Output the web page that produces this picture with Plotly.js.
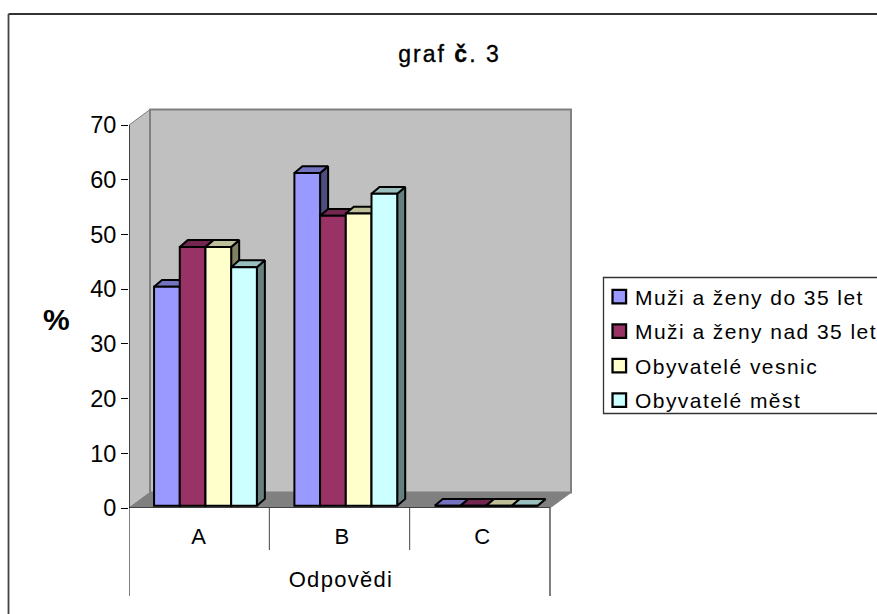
<!DOCTYPE html>
<html><head><meta charset="utf-8">
<script src="https://cdn.plot.ly/plotly-3.0.1.min.js"></script>
<style>html,body{margin:0;padding:0;background:#fff}
#chart .legendtext{letter-spacing:1.45px}
#chart .legend .scrollbox{clip-path:none !important}
#chart .legendpoints path{transform:translate(24.3px,0) scale(1.13)}
#chart .gtitle{letter-spacing:2px;stroke:#000;stroke-width:.35px}
#chart .xtick text{letter-spacing:1px}
#chart .xtitle{letter-spacing:1.3px;transform:translate(-12px,1px)}
</style></head>
<body><div id="chart" style="width:877px;height:614px"></div>
<script>
const categories = ['A','B','C'];
const seriesNames = ['Muži a ženy do 35 let','Muži a ženy nad 35 let','Obyvatelé vesnic','Obyvatelé měst'];
const muziDo35 = [40, 60.8, 0];
const muziNad35 = [47.3, 53, 0];
const vesnice = [47.3, 53.4, 0];
const mesta = [43.6, 57, 0];
const frontColors = ['#9999FF','#993366','#FFFFCC','#CCFFFF'];
const topColors = ['#7373BF','#732650','#BFBF99','#99BFBF'];
const sideColors = ['#4D4D80','#4D1A33','#808066','#668080'];
const yTicks = [0,10,20,30,40,50,60,70];
const allSeries = [muziDo35, muziNad35, vesnice, mesta];

// plot geometry
const L=129,R=577,T=100,B=508,catPx=140.33,valPx=5.471;
const font='"Liberation Sans", Arial, sans-serif';
const barW=25.7/catPx, shiftX=6.3/catPx, baseV=2.3/valPx;
const depX=8/catPx, depV=6.8/valPx;
const wallX=21/catPx, wallV=15.5/valPx;
const edge=2;
const traces=[];
allSeries.forEach((vals,s)=>{
  const xs=categories.map((c,i)=>i+0.5+shiftX+(s-1.5)*barW);
  const tx=[],ty=[],sx=[],sy=[];
  vals.forEach((v,i)=>{
    const l=xs[i]-barW/2,r=xs[i]+barW/2,t=v+baseV;
    tx.push(l,l+depX,r+depX,r,l,null); ty.push(t,t+depV,t+depV,t,t,null);
    sx.push(r,r+depX,r+depX,r,r,null); sy.push(baseV,baseV+depV,t+depV,t,baseV,null);
  });
  traces.push({type:'scatter',mode:'lines',x:sx,y:sy,fill:'toself',fillcolor:sideColors[s],
    line:{color:'#000',width:edge},showlegend:false,hoverinfo:'skip',zorder:s*2+1,cliponaxis:false});
  traces.push({type:'scatter',mode:'lines',x:tx,y:ty,fill:'toself',fillcolor:topColors[s],
    line:{color:'#000',width:edge},showlegend:false,hoverinfo:'skip',zorder:s*2+1,cliponaxis:false});
  traces.push({type:'bar',name:seriesNames[s],legendgroup:'g'+s,x:xs,y:vals,base:baseV,width:barW,
    marker:{color:frontColors[s],line:{color:'#000',width:edge}},zorder:s*2+2});
});
const xMax=(R-L)/catPx, yMax=(B-T)/valPx;
const gray='#808080';
const px=v=>(v-L)/(R-L), py=v=>(B-v)/(B-T);
const shapes=[
 // outer frame: only the top and left edges fall inside the picture
 {type:'line',xref:'paper',yref:'paper',x0:px(8.5),x1:px(877),y0:py(14),y1:py(14),line:{color:'#333',width:1.8},layer:'below'},
 {type:'line',xref:'paper',yref:'paper',x0:px(8.5),x1:px(8.5),y0:py(14),y1:py(614),line:{color:'#444',width:1.8},layer:'below'},
 // legend box
 {type:'rect',xref:'paper',yref:'paper',x0:px(603.5),x1:px(890),y0:py(413.5),y1:py(277.5),line:{color:'#333',width:1.3},layer:'below'},
 // side wall
 {type:'path',xref:'x',yref:'y',path:`M0,0 L${wallX},${wallV} L${wallX},${70+wallV} L0,70 Z`,fillcolor:'#C0C0C0',line:{color:gray,width:1},layer:'below'},
 // back wall
 {type:'path',xref:'x',yref:'y',path:`M${wallX},${wallV} L${3+wallX},${wallV} L${3+wallX},${70+wallV} L${wallX},${70+wallV} Z`,fillcolor:'#C0C0C0',line:{color:gray,width:2},layer:'below'},
 // floor
 {type:'path',xref:'x',yref:'y',path:`M0,0 L${wallX},${wallV} L${3+wallX},${wallV} L3,0 Z`,fillcolor:gray,line:{color:gray,width:1},layer:'below'},
 {type:'line',xref:'x',yref:'y',x0:0,x1:0,y0:0,y1:70,line:{color:'#000',width:1.2}},
 {type:'line',xref:'x',yref:'y',x0:0,x1:3,y0:0,y1:0,line:{color:'#000',width:1.2}},
];
[0,1,2,3].forEach(i=>{
  const deep=(i===0||i===3);
  shapes.push({type:'line',xref:'x',yref:'paper',x0:i,x1:i,y0:0,y1:-(deep?88:42)/(B-T),line:{color:deep?'#000':'#444',width:1}});
});
const layout={
 width:877,height:614,paper_bgcolor:'#fff',plot_bgcolor:'rgba(0,0,0,0)',
 margin:{l:L,r:877-R,t:T,b:614-B,pad:0},barmode:'overlay',
 title:{text:'graf <b>č</b>. 3',font:{family:font,size:23,color:'#000'},x:449.5/877,xanchor:'center',y:1-54/614,yanchor:'middle'},
 xaxis:{range:[0,xMax],tickmode:'array',tickvals:[0.5,1.52,2.52],ticktext:categories,ticks:'',showgrid:false,zeroline:false,showline:false,
   tickfont:{family:font,size:22,color:'#000'},ticklabelstandoff:13,fixedrange:true,title:{text:'Odpovědi',font:{family:font,size:22,color:'#000'},standoff:22}},
 yaxis:{range:[0,yMax],tickmode:'array',tickvals:yTicks,ticks:'outside',ticklen:7,tickcolor:'#000',tickwidth:1,showgrid:false,zeroline:false,showline:false,
   tickfont:{family:font,size:23.5,color:'#000'},fixedrange:true},
 annotations:[{xref:'paper',yref:'paper',x:px(56.7),y:py(319),xanchor:'center',yanchor:'middle',showarrow:false,text:'<b>%</b>',font:{family:font,size:30,color:'#000'}}],
 legend:{x:px(595),xanchor:'left',y:py(276.5),yanchor:'top',font:{family:font,size:21,color:'#000'},bgcolor:'rgba(0,0,0,0)',borderwidth:0,tracegroupgap:4.2,itemclick:false,itemdoubleclick:false},
 shapes:shapes,showlegend:true
};
Plotly.newPlot('chart',traces,layout,{displayModeBar:false,staticPlot:true});
</script></body></html>
